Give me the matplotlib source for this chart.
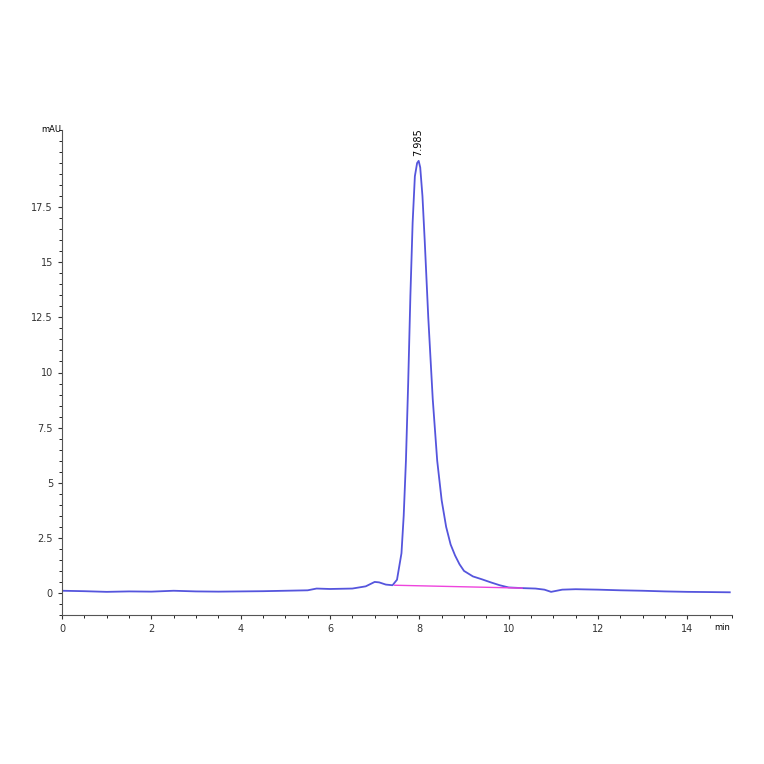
import matplotlib
matplotlib.use("Agg")
import matplotlib.pyplot as plt

time = [0.0, 0.5, 1.0, 1.5, 2.0, 2.5, 3.0, 3.5, 4.0, 4.5, 5.0, 5.5, 5.7, 6.0, 6.5, 6.8, 7.0, 7.1, 7.25, 7.4, 7.5, 7.6, 7.65, 7.7,
        7.75, 7.8, 7.85, 7.9, 7.95, 7.985, 8.02, 8.07, 8.12, 8.2, 8.3, 8.4, 8.5, 8.6, 8.7, 8.8, 8.9, 9.0, 9.2,
        9.4, 9.6, 9.8, 10.0, 10.3, 10.6, 10.8, 10.95, 11.2, 11.5, 12.0, 12.5, 13.0, 13.5, 14.0, 14.5, 14.95]
signal = [0.1, 0.08, 0.05, 0.07, 0.06, 0.1, 0.07, 0.06, 0.07, 0.08, 0.1, 0.12, 0.2, 0.18, 0.2, 0.3, 0.5, 0.48, 0.38, 0.35, 0.6, 1.8, 3.5, 6.0,
          9.5, 13.5, 16.8, 18.9, 19.5, 19.6, 19.3, 18.0, 16.0, 12.5, 8.8, 6.0, 4.2, 3.0, 2.2, 1.7, 1.3, 1.0, 0.75,
          0.62, 0.48, 0.35, 0.25, 0.22, 0.2, 0.15, 0.05, 0.15, 0.17, 0.15, 0.12, 0.1, 0.07, 0.05, 0.04, 0.03]
base_t = [7.45, 10.3]
base_v = [0.35, 0.22]
peak_label = "7.985"
yticks = [0, 2.5, 5, 7.5, 10, 12.5, 15, 17.5]
xticks = [0, 2, 4, 6, 8, 10, 12, 14]

fig = plt.figure(figsize=(7.64, 7.64), dpi=100)
ax = fig.add_axes([62/764, 1-615/764, (732-62)/764, (615-130)/764])
ax.plot(time, signal, color="#5555dd", lw=1.3)
ax.plot(base_t, base_v, color="#ee44dd", lw=1.0)
ax.text(7.985, 19.8, peak_label, rotation=90, ha="center", va="bottom", fontsize=7)
ax.set_xlim(0, 15)
ax.set_ylim(-1.0, 21.0)
ax.set_xticks(xticks)
ax.set_xticklabels([str(v) for v in xticks], fontsize=7)
ax.set_yticks(yticks)
ax.set_yticklabels([("%g" % v) for v in yticks], fontsize=7)
ax.set_xticks([i*0.5 for i in range(31)], minor=True)
ax.set_yticks([i*0.5 for i in range(-2, 43)], minor=True)
ax.tick_params(length=3, width=0.8, colors="#333333")
ax.tick_params(which="minor", length=2)
for s in ["top", "right"]:
    ax.spines[s].set_visible(False)
for s in ["left", "bottom"]:
    ax.spines[s].set_color("#555555")
ax.text(-0.02, 21.0, "mAU", ha="right", va="center", fontsize=6)
ax.text(14.95, -1.35, "min", ha="right", va="top", fontsize=6)
fig.savefig("out.png", dpi=100)
